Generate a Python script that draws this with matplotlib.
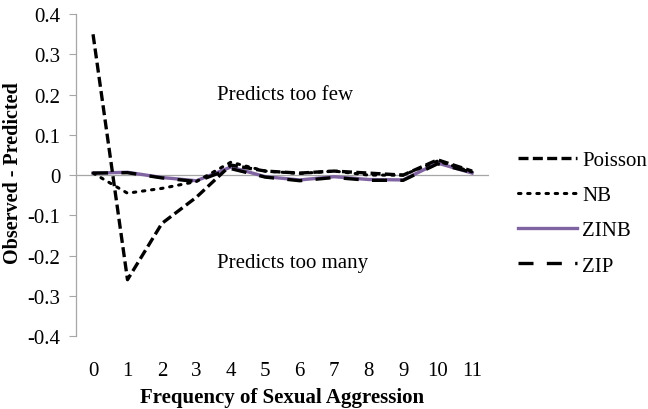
import matplotlib
matplotlib.use("Agg")
import matplotlib.pyplot as plt

plt.rcParams["font.family"] = ["Liberation Serif", "DejaVu Serif"]

counts = list(range(12))
poisson = [0.35, -0.26, -0.12, -0.055, 0.025, 0.01, 0.005, 0.01, 0.005, 0.0, 0.038, 0.01]
nb = [0.005, -0.045, -0.033, -0.016, 0.032, 0.01, 0.004, 0.01, 0.0, 0.0, 0.035, 0.008]
zinb = [0.005, 0.007, -0.006, -0.014, 0.02, -0.004, -0.012, -0.004, -0.011, -0.012, 0.03, 0.005]
zip_ = [0.005, 0.006, -0.007, -0.016, 0.016, -0.005, -0.014, -0.006, -0.013, -0.013, 0.028, 0.007]
series_names = ["Poisson", "NB", "ZINB", "ZIP"]
yticks = [-0.4, -0.3, -0.2, -0.1, 0.0, 0.1, 0.2, 0.3, 0.4]
ytick_labels = ["-0.4", "-0.3", "-0.2", "-0.1", "0", "0.1", "0.2", "0.3", "0.4"]

fig = plt.figure(figsize=(6.48, 4.10), dpi=100)
ax = fig.add_axes([0.117, 0.178, 0.638, 0.785])

ax.axhline(0, color="#a6a6a6", lw=0.9, zorder=1)

ax.plot(counts, zip_, color="black", lw=2.4, dashes=(4.5, 4.0), label=series_names[3], zorder=4)
ax.plot(counts, zinb, color="#8064a2", lw=2.4, label=series_names[2], zorder=3)
ax.plot(counts, nb, color="black", lw=2.2, dashes=(0.8, 2.2), dash_capstyle="round",
        label=series_names[1], zorder=5)
ax.plot(counts, poisson, color="black", lw=2.4, dashes=(3.0, 1.3), label=series_names[0], zorder=6)

ax.set_xlim(-0.5, 11.5)
ax.set_ylim(-0.4, 0.4)
ax.set_xticks(counts)
ax.set_xticklabels([str(c) for c in counts])
ax.set_yticks(yticks)
ax.set_yticklabels(ytick_labels)
ax.tick_params(axis="x", length=0, pad=18, labelsize=15)
ax.tick_params(axis="y", length=5, color="#a6a6a6", labelsize=15, pad=6)

for side in ("top", "right", "bottom"):
    ax.spines[side].set_visible(False)
ax.spines["left"].set_color("#a6a6a6")
ax.spines["left"].set_linewidth(0.9)

ax.set_xlabel("Frequency of Sexual Aggression", fontsize=15, fontweight="bold", labelpad=5)
ax.set_ylabel("Observed - Predicted", fontsize=14.5, fontweight="bold")
ax.yaxis.set_label_coords(-0.128, 0.51)

ax.text(3.6, 0.2, "Predicts too few", fontsize=15, va="center", ha="left")
ax.text(3.6, -0.217, "Predicts too many", fontsize=15, va="center", ha="left")

handles, labels = ax.get_legend_handles_labels()
order = [3, 2, 1, 0]
fig.legend([handles[i] for i in order], [labels[i] for i in order],
           loc="center left", bbox_to_anchor=(0.8, 0.478), frameon=False,
           fontsize=15, handlelength=2.8, handletextpad=0.25, labelspacing=0.75,
           borderaxespad=0, borderpad=0)

fig.savefig("out.png", dpi=100, facecolor="white")
